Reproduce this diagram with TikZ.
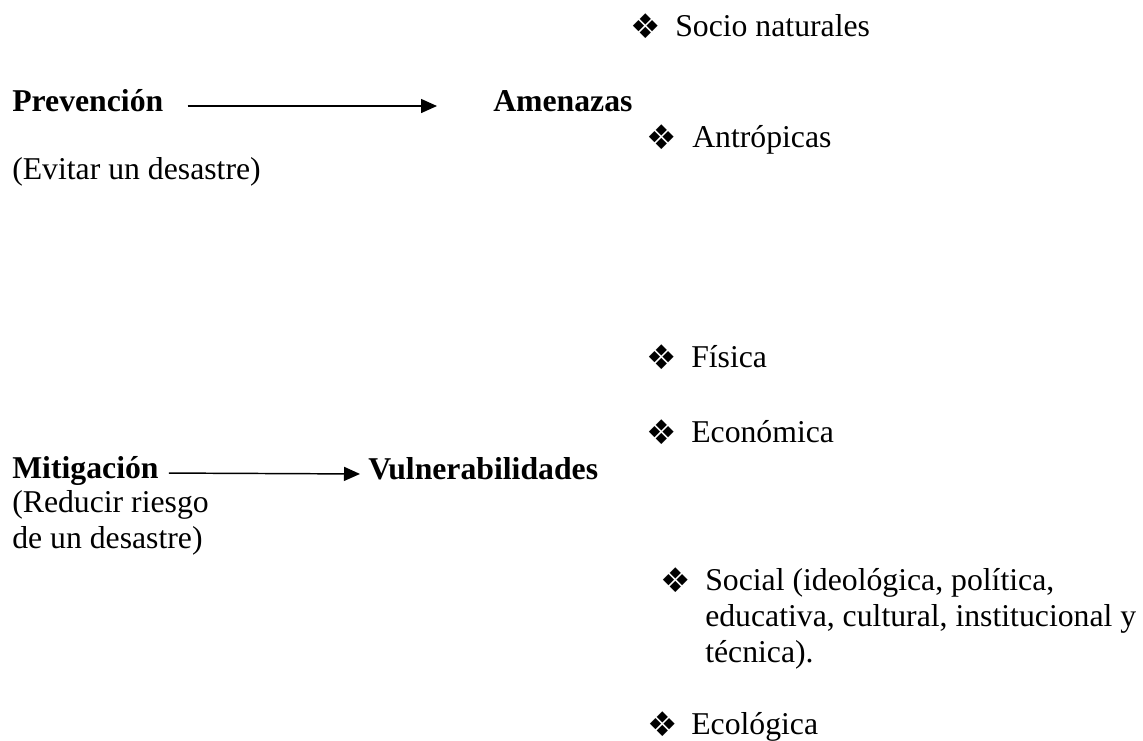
\documentclass[tikz,border=0pt]{standalone}
\usepackage{fontspec}
\setmainfont{Liberation Serif}
\newfontfamily\symfont{DejaVu Sans}
\usetikzlibrary{arrows.meta}
\begin{document}
\begin{tikzpicture}[x=0.75pt,y=-0.75pt,
  txt/.style={anchor=base west,inner sep=0pt,font=\fontsize{23.8}{27}\selectfont},
  head/.style={txt,font=\fontsize{23.8}{27}\selectfont\bfseries},
  bul/.style={anchor=base west,inner sep=0pt,yshift=-1.5pt,font=\symfont\fontsize{25.5}{25.5}\selectfont},
  arr/.style={line width=1.1pt,-{Triangle[length=12pt,width=10.5pt]}}]
\useasboundingbox (0,0) rectangle (1143,740);
% left column
\node[head] (prev) at (12,111) {Prevención};
\node[txt] (evit) at (12,179) {(Evitar un desastre)};
\node[head] (amen) at (493,111) {Amenazas};
\node[head] (mitig) at (12,478) {Mitigación};
\node[txt,align=left] (reduc) at (12,548) {(Reducir riesgo\\de un desastre)};
\node[head] (vuln) at (368,479) {Vulnerabilidades};
% arrows
\draw[arr,shorten <=18pt,shorten >=42pt] ([yshift=3.75pt]prev.base east) -- ([yshift=3.75pt]amen.base west);
\draw[arr,shorten <=7.5pt,shorten >=6pt] ([yshift=3.75pt]mitig.base east) -- ([yshift=3.75pt]vuln.base west);
% right column
\node[bul] (b1) at (630,36) {❖};
\node[txt] (socn) at (675,36) {Socio naturales};
\node[bul] (b2) at (646,147) {❖};
\node[txt] (antr) at (692,147) {Antrópicas};
\node[bul] (b3) at (646,367) {❖};
\node[txt] (fis) at (691,367) {Física};
\node[bul] (b4) at (646,442) {❖};
\node[txt] (eco) at (691,442) {Económica};
\node[bul] (b5) at (660,590) {❖};
\node[txt,align=left] (soc) at (705,662) {Social (ideológica, política,\\educativa, cultural, institucional y\\técnica).};
\node[bul] (b6) at (647,734) {❖};
\node[txt] (ecol) at (691,734) {Ecológica};
\end{tikzpicture}
\end{document}
